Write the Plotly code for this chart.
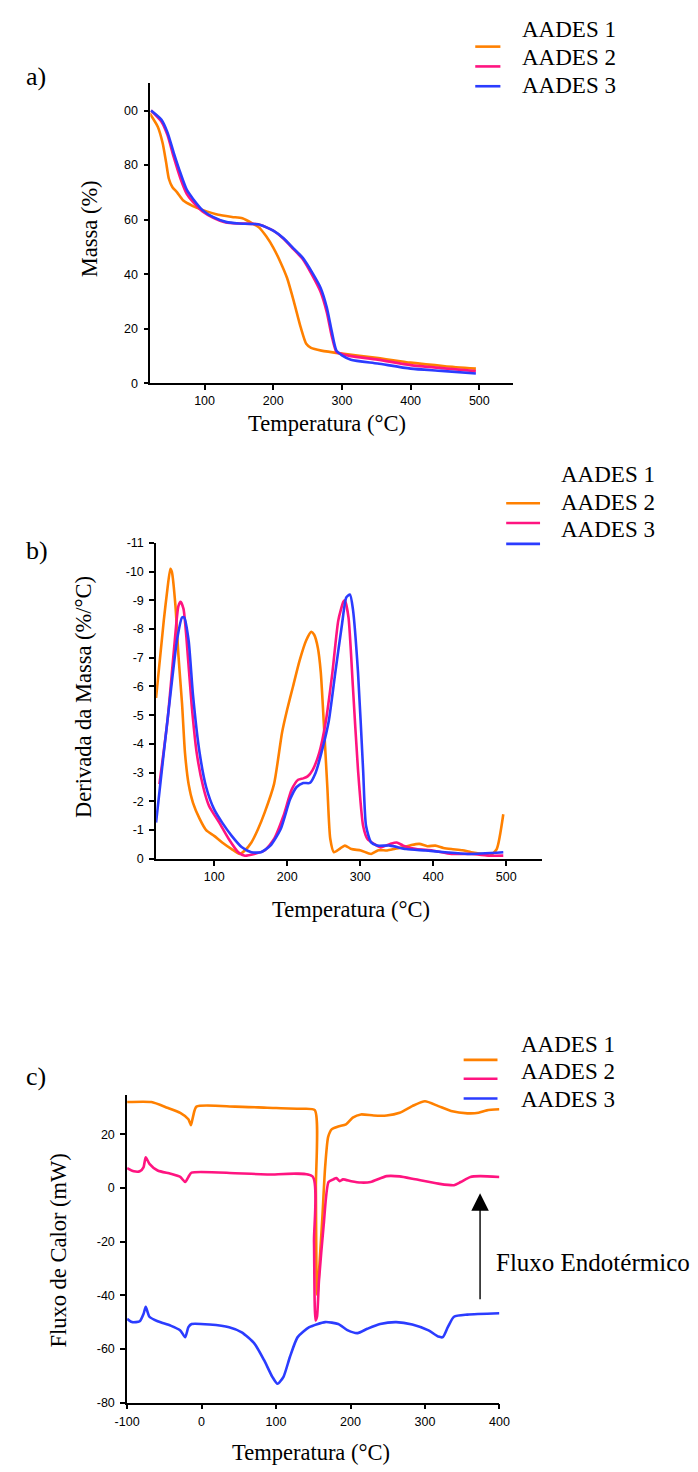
import plotly.graph_objects as go

W, H = 698, 1472

# ---------------- DATA ----------------
series_names = ["AADES 1", "AADES 2", "AADES 3"]
colors = ["#FF8000", "#FF1480", "#2B3CFF"]

# a) TGA - mass (%)
tga_t1 = [20, 32, 39, 44, 48, 53, 60, 69, 83, 97, 120, 140, 155, 170, 180, 190, 200, 210, 220, 230, 240, 248, 255, 270, 300, 350, 400, 450, 495]
tga_m1 = [99, 94, 88, 81, 75, 72, 70, 67, 65, 63.6, 61.8, 61, 60.5, 58.6, 57, 53.8, 49.8, 44.7, 38.7, 30, 20.5, 14.5, 13, 12, 10.9, 9.4, 7.6, 6.3, 5.4]
tga_t2 = [22, 37, 46, 55, 65, 74, 83, 97, 112, 131, 150, 178, 200, 215, 229, 243, 257, 269, 278, 285, 292, 300, 313, 352, 400, 445, 495]
tga_m2 = [100, 96, 91, 83, 75, 69.5, 66.5, 63, 60.8, 59, 58.6, 58.3, 56, 53, 49.3, 45.5, 39.5, 33.5, 26, 17.5, 11.5, 10.8, 10, 8.7, 6.7, 5.6, 4.5]
tga_t3 = [22, 37, 46, 55, 65, 74, 83, 97, 112, 131, 150, 178, 200, 215, 229, 243, 257, 269, 278, 285, 292, 300, 313, 352, 400, 445, 495]
tga_m3 = [100, 96.7, 92, 84.6, 77, 71, 67.7, 63.5, 61, 59.2, 58.6, 58.3, 56, 53.2, 49.6, 46, 40.5, 35, 27.8, 19.3, 12, 10.3, 8.7, 7.3, 5.4, 4.6, 3.6]

# b) DTG - derivative of mass (%/°C)
dtg_t1 = [20.4, 31, 36, 40, 42, 47, 51, 56, 60, 65, 71, 80, 89, 100, 111, 124, 135, 142, 151, 160, 169, 182, 193, 200, 208, 217, 226, 233, 237, 242, 246, 250, 255, 259, 264, 272, 279, 288, 301, 315, 325, 337, 348, 359, 370, 381, 392, 403, 414, 425, 440, 452, 465, 478, 487, 496]
dtg_d1 = [-5.6, -8.3, -9.4, -10.1, -10.0, -8.8, -7.1, -5.4, -3.7, -2.6, -1.95, -1.4, -1.0, -0.8, -0.57, -0.34, -0.17, -0.29, -0.57, -1.03, -1.6, -2.6, -4.4, -5.2, -6.0, -6.9, -7.6, -7.9, -7.8, -7.35, -6.5, -4.8, -2.5, -0.7, -0.23, -0.35, -0.46, -0.34, -0.29, -0.17, -0.3, -0.29, -0.35, -0.4, -0.48, -0.52, -0.44, -0.46, -0.38, -0.34, -0.3, -0.23, -0.18, -0.11, -0.34, -1.55]
dtg_t2 = [25, 36, 45, 51, 54, 58, 62, 69, 76, 85, 93, 107, 120, 133, 142, 155, 169, 182, 195, 206, 215, 222, 228, 235, 244, 253, 262, 270, 277, 279, 284, 290, 297, 304, 310, 319, 328, 341, 350, 359, 377, 399, 425, 452, 478, 496]
dtg_d2 = [-2.6, -4.8, -7.3, -8.8, -8.95, -8.7, -7.7, -5.4, -3.7, -2.5, -1.84, -1.26, -0.69, -0.23, -0.11, -0.17, -0.29, -0.69, -1.5, -2.4, -2.75, -2.8, -2.87, -3.1, -3.7, -4.8, -6.5, -8.3, -8.95, -9.0, -8.4, -6.0, -3.1, -1.15, -0.69, -0.52, -0.4, -0.52, -0.57, -0.46, -0.34, -0.29, -0.17, -0.17, -0.11, -0.11]
dtg_t3 = [20.4, 31, 40, 49, 56, 59, 65, 71, 80, 89, 100, 111, 124, 138, 151, 164, 177, 191, 204, 213, 222, 231, 239, 248, 257, 266, 275, 281, 286, 290, 297, 304, 308, 315, 323, 341, 363, 390, 416, 447, 496]
dtg_d3 = [-1.26, -3.7, -5.7, -7.6, -8.4, -8.4, -7.6, -5.7, -3.7, -2.5, -1.72, -1.26, -0.8, -0.4, -0.23, -0.23, -0.46, -1.03, -2.07, -2.5, -2.64, -2.64, -3.0, -3.8, -4.8, -6.5, -8.15, -9.1, -9.2, -8.7, -6.5, -3.1, -1.15, -0.57, -0.46, -0.46, -0.34, -0.29, -0.23, -0.17, -0.23]

# c) DSC - heat flow (mW)
dsc_t1 = [-100, -67.5, -46, -28.6, -17.7, -14.3, -11.3, -6.9, 45, 88, 132, 152, 153.5, 155, 156, 158, 162, 166, 170, 175, 183.5, 194, 203, 214, 231, 248.5, 266, 283, 300, 318, 335, 357, 372, 383, 400]
dsc_q1 = [32, 32, 29.9, 28, 25.6, 23.4, 26.8, 30.3, 30.3, 29.9, 29.5, 29, 0, -39, -40, -30, -12, 8, 19, 21.9, 22.9, 23.7, 26.2, 27.4, 27, 27, 28, 30.5, 32.3, 30.5, 28.7, 27.8, 28, 28.9, 29.3]
dsc_t2 = [-100, -91, -83, -78, -75, -70, -59, -41.6, -28.6, -22, -17.7, -13.4, 45, 88, 149, 151, 153, 155, 157.6, 164, 170.5, 177, 181, 185.7, 190, 201, 214, 227, 248.5, 266, 287, 318, 339, 348, 361, 374, 400]
dsc_q2 = [7.4, 6.2, 6.2, 7.7, 11.4, 9, 6.5, 5.3, 4.1, 2.2, 4.1, 5.7, 5.5, 5, 4.3, -20, -49.4, -48, -34.7, -13.8, 2.2, 3.2, 3.7, 2.5, 3.2, 2.5, 2, 2.2, 4.4, 4.3, 3.2, 1.6, 1, 2.2, 4.1, 4.4, 4.1]
dsc_t3 = [-100, -93.5, -83, -78, -75, -70, -59, -41.6, -28.6, -22, -17.7, -13.4, 10.8, 37, 54, 71, 84, 95, 102, 110, 118.6, 129, 144.6, 166, 183.5, 196.5, 209.5, 222.5, 239.8, 261.5, 283, 304.8, 318, 324, 330.7, 339, 357, 400]
dsc_q3 = [-48.8, -50, -49.7, -47, -44.3, -48, -49.7, -51.3, -53.1, -55.6, -51.9, -50.7, -50.9, -51.9, -53.8, -58, -64.2, -70.4, -73, -70.4, -63, -55.6, -51.9, -50, -50.7, -53.1, -54.1, -52.5, -50.7, -50, -50.9, -53.1, -55.4, -55.6, -51.9, -48, -47.2, -46.7]

# tick labels
tga_xticks = [100, 200, 300, 400, 500]
tga_yticks = [0, 20, 40, 60, 80, 100]
tga_ytext = ["0", "20", "40", "60", "80", "00"]
dtg_yticks = [0, -1, -2, -3, -4, -5, -6, -7, -8, -9, -10, -11]
dtg_ytext = ["0", "-1", "-2", "-3", "-4", "-5", "-6", "-7", "-8", "-9", "-10", "-11"]
dsc_xticks = [-100, 0, 100, 200, 300, 400]
dsc_xtext = ["-100", "0", "100", "200", "300", "400"]
dsc_yticks = [-80, -60, -40, -20, 0, 20]
dsc_ytext = ["-80", "-60", "-40", "-20", "0", "20"]

# ---------------- FIGURE ----------------
def px(x):
    return x / W

def py(y):
    return 1 - y / H

fig = go.Figure()

panels = [
    ("x", "y", [(tga_t1, tga_m1), (tga_t2, tga_m2), (tga_t3, tga_m3)]),
    ("x2", "y2", [(dtg_t1, dtg_d1), (dtg_t2, dtg_d2), (dtg_t3, dtg_d3)]),
    ("x3", "y3", [(dsc_t1, dsc_q1), (dsc_t2, dsc_q2), (dsc_t3, dsc_q3)]),
]
for xa, ya, data in panels:
    for (t, v), name, col in zip(data, series_names, colors):
        fig.add_trace(go.Scatter(x=t, y=v, mode="lines", name=name, xaxis=xa, yaxis=ya,
                                 line=dict(color=col, width=2.6, shape="spline", smoothing=0.6),
                                 showlegend=False))

tickfont = dict(family="Liberation Sans, Arial", size=12.5, color="black")
axis_common = dict(showline=True, linecolor="black", linewidth=1.6, ticks="outside",
                   ticklen=5, tickwidth=1.6, tickcolor="black", showgrid=False,
                   zeroline=False, tickfont=tickfont, fixedrange=True)

fig.update_layout(
    width=W, height=H, margin=dict(l=0, r=0, t=0, b=0),
    paper_bgcolor="white", plot_bgcolor="white", showlegend=False,
    xaxis=dict(domain=[px(142), px(517)], range=[21, 549], anchor="y",
               tickvals=tga_xticks, **axis_common),
    yaxis=dict(domain=[py(380), py(77)], range=[0, 110], anchor="x",
               tickvals=tga_yticks, ticktext=tga_ytext, ticklabelstandoff=3, **axis_common),
    xaxis2=dict(domain=[px(148), px(547)], range=[20.5, 549], anchor="y2",
                tickvals=tga_xticks, **axis_common),
    yaxis2=dict(domain=[py(860), py(541)], range=[0, -11], anchor="x2",
                tickvals=dtg_yticks, ticktext=dtg_ytext, ticklabelstandoff=3, **axis_common),
    xaxis3=dict(domain=[px(118), px(503)], range=[-100, 400], anchor="y3",
                tickvals=dsc_xticks, ticktext=dsc_xtext, ticklabelstandoff=2, **axis_common),
    yaxis3=dict(domain=[py(1409), py(1098)], range=[-80, 34.8], anchor="x3",
                tickvals=dsc_yticks, ticktext=dsc_ytext, ticklabelstandoff=3, **axis_common),
)

serif = "Liberation Serif, Times New Roman, serif"
annotations = []

def text(x, y, s, size=22.5, angle=0, xanchor="center"):
    annotations.append(dict(x=px(x), y=py(y), xref="paper", yref="paper", text=s,
                            showarrow=False, textangle=angle, xanchor=xanchor, yanchor="middle",
                            font=dict(family=serif, size=size, color="black")))

# panel labels
text(11, 70, "a)", size=26, xanchor="left")
text(11, 549, "b)", size=26, xanchor="left")
text(11, 1080, "c)", size=26, xanchor="left")

# axis titles
text(80, 224, "Massa (%)", angle=-90)
text(325, 420, "Temperatura (°C)")
text(73, 697, "Derivada da Massa (%/°C)", angle=-90)
text(350, 911, "Temperatura (°C)")
text(47, 1255, "Fluxo de Calor (mW)", angle=-90)
text(308, 1459, "Temperatura (°C)")

# legends (text + line samples, as in the original)
legends = [
    (524, [23, 51, 79], 478, 504, [40, 60, 80]),
    (565, [472, 500, 528], 510, 545, [501, 521, 542]),
    (523, [1047, 1075, 1103], 466, 501, [1063, 1082, 1102]),
]
shapes = []
for tx, tys, lx0, lx1, lys in legends:
    for name, ty, ly, col in zip(series_names, tys, lys, colors):
        text(tx, ty, name, size=23, xanchor="left")
        shapes.append(dict(type="line", xref="paper", yref="paper", x0=px(lx0), x1=px(lx1),
                           y0=py(ly), y1=py(ly), line=dict(color=col, width=2.6)))

# endothermic arrow
annotations.append(dict(x=374, y=-2, xref="x3", yref="y3", ax=374, ay=-42,
                        axref="x3", ayref="y3", text="", showarrow=True,
                        arrowhead=2, arrowsize=2.5, arrowwidth=1.4, arrowcolor="black"))
text(497, 1268, "Fluxo Endotérmico", size=25, xanchor="left")

fig.update_layout(annotations=annotations, shapes=shapes)
fig.write_html("out.html")
